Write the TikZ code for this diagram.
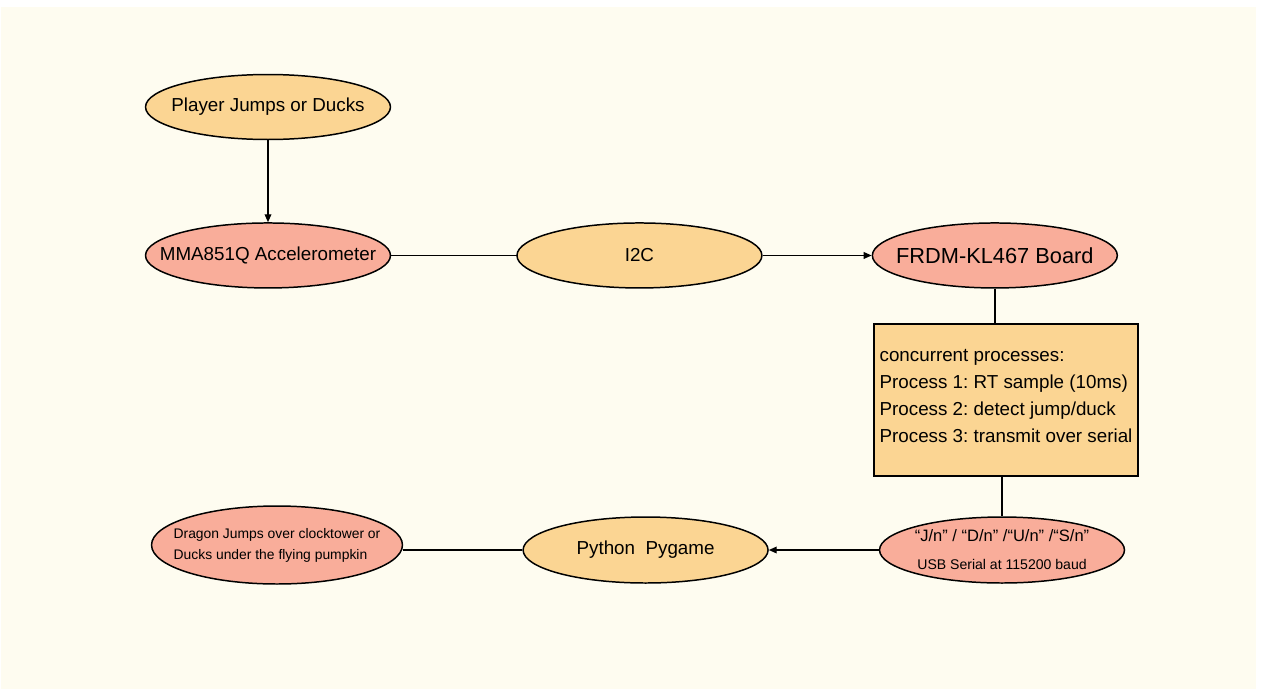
\documentclass[tikz,border=0pt]{standalone}
\usepackage{fontspec}
\setmainfont{Liberation Sans}
\usepackage{xcolor}
\usepackage{tikz}
\usetikzlibrary{shapes.geometric, arrows.meta, positioning}
\definecolor{paper}{HTML}{FEFCF0}
\definecolor{peachfill}{HTML}{FBD593}
\definecolor{coralfill}{HTML}{F9AD9A}

\begin{document}
\begin{tikzpicture}[
  x=0.02cm, y=-0.02cm,
  oval/.style={ellipse, draw=black, line width=0.85pt, inner xsep=-1cm, inner ysep=0pt, minimum width=4.9cm, minimum height=1.3cm, font=\fontsize{10.7}{13}\selectfont},
  peachoval/.style={oval, fill=peachfill},
  coraloval/.style={oval, fill=coralfill},
  procbox/.style={rectangle, draw=black, line width=0.85pt, fill=peachfill, minimum width=5.28cm, minimum height=3.04cm, inner xsep=0.08cm, align=left, font=\fontsize{10.7}{15.3}\selectfont\frenchspacing},
  link/.style={line width=0.75pt},
  flow/.style={link, -{Triangle[length=4.5pt, width=3.8pt]}}
]
  % Page background
  \useasboundingbox (0,0) rectangle (1280,690);
  \fill[white] (0,0) rectangle (1280,690);
  \fill[paper] (1,7) rectangle (1256,689);

  % Sensor chain (top)
  \node[peachoval] (player) at (268,107) {Player Jumps or Ducks};
  \node[coraloval, below=1.64cm of player] (accel) {MMA851Q Accelerometer};
  \node[peachoval, right=2.5cm of accel] (i2c) {I2C};
  \node[coraloval, right=2.18cm of i2c, font=\fontsize{12.4}{15}\selectfont] (board) {FRDM-KL467 Board};

  % Firmware tasks
  \node[procbox] (procs) at (1006,400) {concurrent processes:\\Process 1: RT sample (10ms)\\Process 2: detect jump/duck\\Process 3: transmit over serial\\[-11pt]};

  % Output chain (bottom)
  \node[coraloval, minimum height=1.32cm, align=center] (serial) at (1002,550) {{\fontsize{9.4}{11}\selectfont “J/n” / “D/n” /“U/n” /“S/n”}\\[3pt]{\fontsize{8}{10}\selectfont USB Serial at 115200 baud}};
  \node[peachoval, left=2.2cm of serial, minimum height=1.32cm] (pygame) {Python\ \ Pygame};
  \node[coraloval, minimum width=5.02cm, minimum height=1.56cm, align=left, font=\fontsize{7.9}{11.9}\selectfont] (dragon) at (277,545) {Dragon Jumps over clocktower or\\Ducks under the flying pumpkin};

  % Connectors
  \draw[flow] (player) -- (accel);
  \draw[link] (accel) -- (i2c);
  \draw[flow] (i2c) -- (board);
  \draw[link] (board) -- (board |- procs.north);
  \draw[link] (serial |- procs.south) -- (serial);
  \draw[flow] (serial) -- (pygame);
  \draw[link] (pygame.west) -- (pygame.west -| dragon.east);
\end{tikzpicture}
\end{document}
